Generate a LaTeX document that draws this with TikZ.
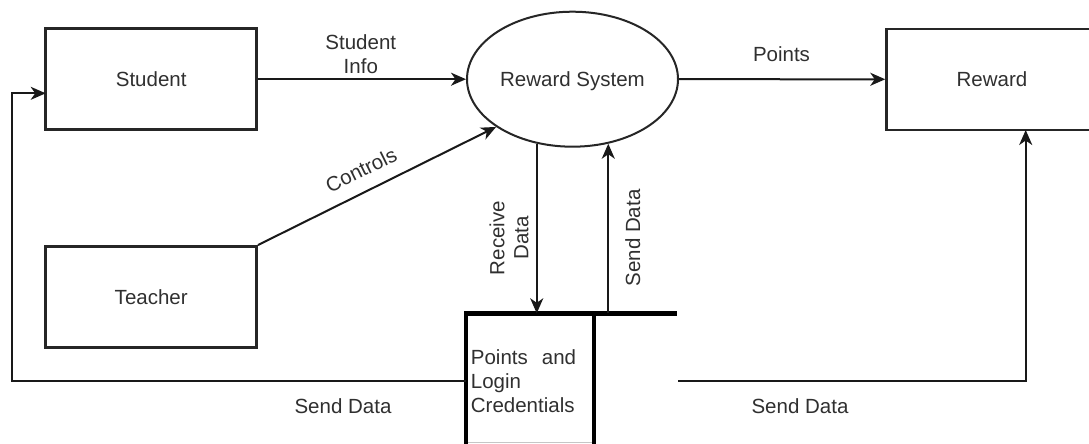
\documentclass[tikz,border=0pt]{standalone}
\usepackage{fontspec}
\setmainfont{Liberation Sans}
\usetikzlibrary{arrows.meta,calc,shapes.geometric}
\definecolor{txt}{HTML}{303030}
\tikzset{
  every node/.style={font=\fontsize{20.5}{24}\selectfont, text=txt},
  box/.style={draw=black!85, line width=2.5pt, minimum width=211pt, minimum height=101pt, inner sep=0pt},
  proc/.style={draw=black!85, line width=2pt, ellipse, minimum width=211pt, minimum height=135pt, inner sep=0pt, text depth=0pt},
  arr/.style={draw=black!90, line width=2pt, -{Stealth[length=15pt,width=13pt,inset=4.5pt]}},
  store/.style={draw=black, line width=4.5pt},
  lbl/.style={inner sep=0pt, align=center}
}
\begin{document}
\begin{tikzpicture}[x=1pt,y=-1pt]
\useasboundingbox (0,0) rectangle (1089,444);
\clip (0,0) rectangle (1089,444);
\fill[white] (0,0) rectangle (1089,444);

% entities
\node[box] (student) at (151.2,79.2) {Student};
\node[box] (teacher) at (151.2,296.8) {Teacher};
\node[box] (reward) at (992,79.3) {Reward};
\node[proc] (rs) at (572.5,79.2) {Reward System};

% data store
\coordinate (dsTL) at (466,313.3);
\coordinate (dsTR) at (677,313.3);
\coordinate (dsMid) at (594,313.3);
\draw[store] (466,450) -- (dsTL) -- (dsTR);
\draw[store] (dsMid) -- (594,450);
\draw[gray!45, line width=1pt] (468,442) -- (592,442);
\node[inner sep=0pt, anchor=north west, align=left] (dstext) at (470.7,349.5)
  {Points\hspace{14pt}and\\Login\\Credentials};

\coordinate (dsL) at (466,380.5);
\coordinate (dsR) at (678,380.5);
\coordinate (lcorner) at (11.7,93.3);
\coordinate (studentIn) at (45.7,93.3);
\coordinate (rwIn) at (1025.7,130);

% flows
\draw[arr] (student) -- (rs);
\draw[arr] (rs) -- (reward);
\draw[arr] (teacher.north east) -- (rs.212.9);
\draw[arr] (rs.-119.4) -- (rs.-119.4 |- dsTL);
\draw[arr] (rs.-61.7 |- dsTL) -- (rs.-61.7);
\draw[arr] (dsL) -| (lcorner) -- (studentIn);
\draw[arr] (dsR) -| (rwIn);

% labels
\node[lbl] (lInfo) at (360.8,54) {Student\\Info};
\node[lbl] (lPoints) at (781.5,54) {Points};
\node[lbl, rotate=26.3] (lControls) at (361,170) {Controls};
\node[lbl, rotate=90] (lRecv) at (509,238) {Receive\\Data};
\node[lbl, rotate=90] (lSendUp) at (632.7,238) {Send Data};
\node[lbl] (lSendL) at (343,406) {Send Data};
\node[lbl] (lSendR) at (800,406) {Send Data};
\end{tikzpicture}
\end{document}
